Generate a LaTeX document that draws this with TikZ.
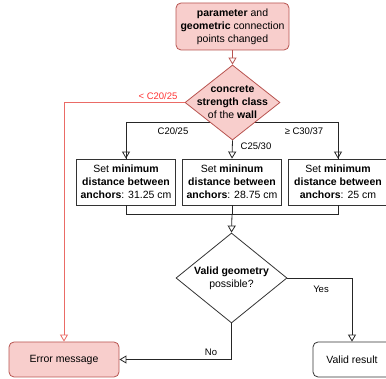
\documentclass[tikz,border=0pt]{standalone}
\usepackage{fontspec}
\setmainfont{Liberation Sans}
\usetikzlibrary{arrows.meta,shapes.geometric,backgrounds}
\definecolor{pinkfill}{HTML}{F8CECC}
\definecolor{pinkline}{HTML}{B85450}
\definecolor{redline}{HTML}{EA6B66}
\definecolor{redtext}{HTML}{FF3333}
\tikzset{
  every node/.style={font=\fontsize{10.5}{13}\selectfont, text=black},
  pinkbox/.style={draw=pinkline, fill=pinkfill, rounded corners=5pt, line width=0.8pt, align=center, inner sep=0pt},
  plainbox/.style={draw=black!80, fill=white, line width=0.8pt, align=center, inner sep=0pt, minimum width=99pt, minimum height=46pt},
  roundbox/.style={draw=black!80, fill=white, rounded corners=5pt, line width=0.8pt, align=center, inner sep=0pt},
  decision/.style={diamond, draw=black!80, fill=white, line width=0.8pt, inner sep=0pt},
  conn/.style={line width=0.8pt, draw=black!85, -{Triangle[open, length=7pt, width=8pt]}},
  plainconn/.style={line width=0.8pt, draw=black!85},
  lbl/.style={font=\fontsize{9.5}{11}\selectfont}
}
\begin{document}
\begin{tikzpicture}[x=1pt, y=-1pt]
\clip (0,0) rectangle (386,379);
\useasboundingbox (0,0) rectangle (386,379);

\node[pinkbox, minimum width=113pt, minimum height=47pt] (top) at (232.5,26.5)
  {\textbf{parameter} and\\ \textbf{geometric} connection\\ points changed};

\node[decision, draw=pinkline, fill=pinkfill, minimum width=95pt, minimum height=75pt,
  label={[align=center]center:\textbf{concrete}\\ \textbf{strength class}\\ of the \textbf{wall}}] (d1) at (232.5,102.5) {};

\node[plainbox] (b1) at (126,182) {Set \textbf{minimum}\\ \textbf{distance between}\\ \textbf{anchors}: 31.25 cm};
\node[plainbox] (b2) at (232,182) {Set \textbf{mininum}\\ \textbf{distance between}\\ \textbf{anchors}: 28.75 cm};
\node[plainbox] (b3) at (338,182) {Set \textbf{minimum}\\ \textbf{distance between}\\ \textbf{anchors}: 25 cm};

\node[decision, minimum width=111pt, minimum height=90pt,
  label={[align=center]center:\textbf{Valid geometry}\\ possible?}] (d2) at (231.5,278) {};

\node[pinkbox, minimum width=110pt, minimum height=35pt] (err) at (64,359.5) {Error message};
\node[roundbox, minimum width=78pt, minimum height=35pt] (valid) at (352,359.5) {Valid result};

\coordinate (split) at (232.5,122);
\coordinate (merge) at (232,214);
\coordinate (redcorner) at (64,102.5);

\begin{scope}[on background layer]
  \draw[plainconn] (split) -| ([xshift=0pt]b1.north);
  \draw[conn] (b1.north |- split) -- (b1.north);
  \draw[plainconn] (split) -| (b3.north);
  \draw[conn] (b3.north |- split) -- (b3.north);
\end{scope}

\draw[conn, draw=pinkline] (top.south) -- (d1.north);
\draw[conn, draw=redline] (d1.west) -- (redcorner) -- (err.north);
\draw[conn] (d1.south) -- (b2.north);

\draw[plainconn] (b1.south) |- (merge);
\draw[plainconn] (b3.south) |- (merge);
\draw[plainconn] (b2.south) -- (merge);
\draw[conn] (merge) -- (d2.north);

\draw[conn] (d2.east) -| (valid.north);
\draw[conn] (d2.south) |- (err.east);

\node[lbl, text=redtext] (lred) at (158,96) {< C20/25};
\node[lbl] (l1) at (173,131) {C20/25};
\node[lbl] (l2) at (256,146) {C25/30};
\node[lbl] (l3) at (304,131) {≥ C30/37};
\node[lbl] (lyes) at (321,289) {Yes};
\node[lbl] (lno) at (211,352) {No};
\end{tikzpicture}
\end{document}
